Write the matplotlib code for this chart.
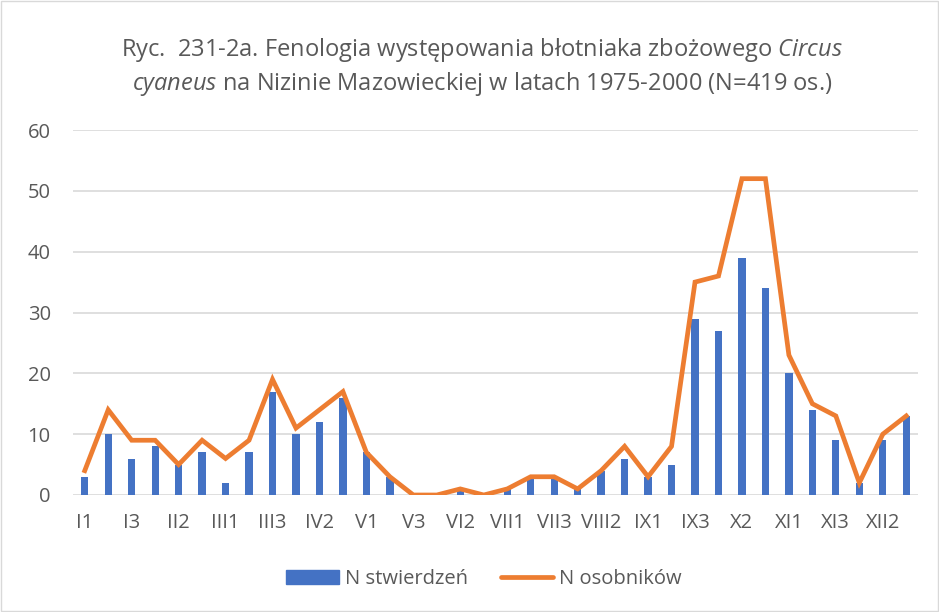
import matplotlib
matplotlib.use("Agg")
import matplotlib.pyplot as plt
from matplotlib.patches import Rectangle, Patch
from matplotlib.lines import Line2D
import numpy as np

months = ["I", "II", "III", "IV", "V", "VI", "VII", "VIII", "IX", "X", "XI", "XII"]
categories = [m + str(d) for m in months for d in (1, 2, 3)]

n_stwierdzen = [3, 10, 6, 8, 5, 7, 2, 7, 17, 10, 12, 16,
                7, 3, 0, 0, 1, 0, 1, 3, 3, 1, 4, 6,
                3, 5, 29, 27, 39, 34, 20, 14, 9, 2, 9, 13]
n_osobnikow = [4, 14, 9, 9, 5, 9, 6, 9, 19, 11, 14, 17,
               7, 3, 0, 0, 1, 0, 1, 3, 3, 1, 4, 8,
               3, 8, 35, 36, 52, 52, 23, 15, 13, 2, 10, 13]

plt.rcParams['font.family'] = "Open Sans"
plt.rcParams['mathtext.fontset'] = "custom"
plt.rcParams['mathtext.rm'] = "Open Sans"
plt.rcParams['mathtext.it'] = "Open Sans:italic"

blue = "#4472C4"
orange = "#ED7D31"
grey_txt = "#595959"
grid_col = "#D9D9D9"

fig = plt.figure(figsize=(9.39, 6.12), dpi=100)
ax = fig.add_axes([73/939, 1 - 495/612, (918 - 73)/939, (495 - 130)/612])

x = np.arange(len(categories))
ax.bar(x, n_stwierdzen, width=0.31, color=blue, zorder=2)
ax.plot(x, n_osobnikow, color=orange, lw=3.4, zorder=3,
        solid_joinstyle="miter")

ax.set_xlim(-0.5, len(categories) - 0.5)
ax.set_ylim(0, 60)
ax.set_yticks(range(0, 61, 10))
ax.set_xticks(x[::2])
ax.set_xticklabels(categories[::2])
ax.tick_params(axis="both", length=0, labelsize=14.5, colors=grey_txt)
ax.tick_params(axis="x", pad=13)
ax.tick_params(axis="y", pad=16)
ax.grid(axis="y", color=grid_col, lw=1.2, zorder=0)
for s in ax.spines.values():
    s.set_visible(False)

fig.text(482/939, 1 - 50/612,
         r"Ryc.  231-2a. Fenologia występowania błotniaka zbożowego $\mathit{Circus}$",
         ha="center", va="center", fontsize=17, color=grey_txt)
fig.text(482/939, 1 - 84/612,
         r"$\mathit{cyaneus}$ na Nizinie Mazowieckiej w latach 1975-2000 (N=419 os.)",
         ha="center", va="center", fontsize=17, color=grey_txt)

handles = [Patch(facecolor=blue, edgecolor=blue),
           Line2D([0], [0], color=orange, lw=3.4, solid_capstyle="round")]
fig.legend(handles, ["N stwierdzeń", "N osobników"], loc="center",
           bbox_to_anchor=(484/939, 1 - 579/612), ncol=2, frameon=False,
           fontsize=14.5, labelcolor=grey_txt, handlelength=2.6,
           columnspacing=1.65, handletextpad=0.3)

fig.patches.append(Rectangle((0.0015, 0.002), 0.997, 0.996, transform=fig.transFigure,
                             fill=False, edgecolor=grid_col, lw=1))

fig.savefig("out.png", dpi=100)
